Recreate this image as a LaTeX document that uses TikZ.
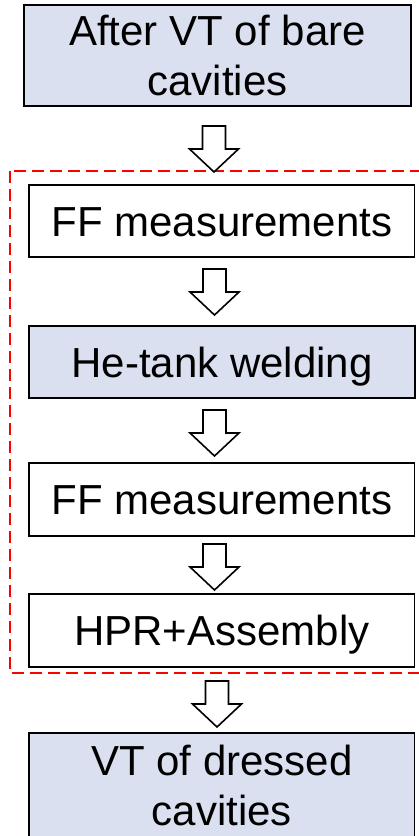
\documentclass[tikz,border=0pt]{standalone}
\usepackage{fontspec}
\setmainfont{Liberation Sans}
\definecolor{stepfill}{RGB}{218,224,239}
\tikzset{
  stepbox/.style={draw=black, line width=1.6pt, inner sep=0pt, align=center,
    font=\fontsize{42}{50.4}\selectfont},
  oneline/.style={text height=30pt, text depth=0pt},
  shaded/.style={fill=stepfill},
  arrowline/.style={draw=black, fill=white, line width=1.6pt, line join=miter},
  groupframe/.style={draw=red, line width=2.2pt, dash pattern=on 12pt off 6pt},
  pics/downarrow/.style={code={
    \draw[arrowline] (-11.5,0) -- (11.5,0) -- (11.5,23) -- (24.5,23) -- (0,46)
      -- (-24.5,23) -- (-11.5,23) -- cycle;}}
}
\begin{document}
\begin{tikzpicture}[x=1pt, y=-1pt]
  \useasboundingbox (0,0) rectangle (419,836);
  \clip (0,0) rectangle (419,836);

  % group of intermediate steps
  \draw[groupframe] (10,171) rectangle (425,673);

  % process steps
  \node[stepbox, shaded, minimum width=387pt, minimum height=101pt] (start) at (217.5,55.5)
    {After VT of bare\\cavities};
  \node[stepbox, oneline, minimum width=385.5pt, minimum height=72pt] (ffa) at (221.75,221)
    {FF measurements};
  \node[stepbox, oneline, shaded, minimum width=386pt, minimum height=72pt] (weld) at (222,362)
    {He-tank welding};
  \node[stepbox, oneline, minimum width=385.5pt, minimum height=73pt] (ffb) at (221.75,499.5)
    {FF measurements};
  \node[stepbox, oneline, minimum width=385.5pt, minimum height=73pt] (hpr) at (221.75,630.5)
    {HPR+Assembly};
  \node[stepbox, shaded, minimum width=385.5pt, minimum height=105pt] (finish) at (221.75,785.5)
    {VT of dressed\\cavities};

  % block arrows between the steps
  \pic at (214,126) {downarrow};
  \pic at (214.5,269) {downarrow};
  \pic at (214.5,410) {downarrow};
  \pic at (214.5,544) {downarrow};
  \pic at (217,681) {downarrow};
\end{tikzpicture}
\end{document}
